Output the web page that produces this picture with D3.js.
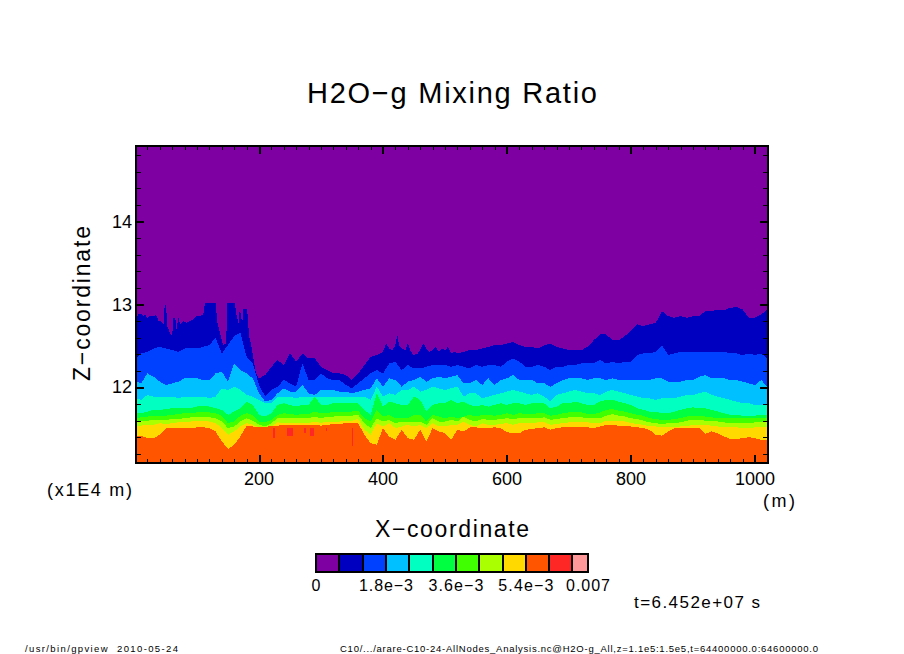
<!DOCTYPE html>
<html>
<head>
<meta charset="utf-8">
<script src="https://cdn.jsdelivr.net/npm/d3@7"></script>
<style>
  body { margin: 0; background: #fff; }
  text { font-family: "Liberation Sans", sans-serif; fill: #000; }
</style>
</head>
<body>
<div id="viz"></div>
<script>
// x samples (m)
const xs = [2].concat(d3.range(10, 1021, 10));

// the top boundary is spikier, so it gets its own denser x samples
const navyXs = [
  2,5,10,13,16,20,24,30,34,38,41,46,48,50,52,56,60,62,65,67,70,73,78,83,89,94,99,
  105,110,113,121,130,133,137,142,147,149,161,163,167,169,173,175,181,184,188,195,
  200,210,220,230,240,250,260,270,280,290,300,310,320,330,340,350,360,370,380,390,
  400,405,410,415,420,423,426,430,436,440,445,450,456,460,465,470,475,480,485,490,495,500,505,510,515,520,
  530,540,550,560,570,580,590,600,610,620,630,640,650,660,670,680,690,700,710,720,730,740,750,760,770,780,790,
  800,810,820,830,840,850,860,870,880,890,900,910,920,930,940,950,960,970,980,990,1000,1010,1020
];

// contour boundaries, z in units of 1e4 m
const navyTop = [
  12.84,12.88,12.89,12.86,12.88,12.84,12.86,12.86,12.88,12.80,12.80,12.76,13.00,13.00,12.74,12.66,12.62,12.84,12.84,12.70,12.84,12.76,12.80,12.78,12.80,12.82,12.86,
  12.86,12.88,13.02,13.02,13.02,12.78,12.66,12.51,12.53,13.02,13.02,12.90,12.78,12.94,12.78,12.95,12.94,12.62,12.49,12.17,
  12.11,12.15,12.25,12.33,12.27,12.41,12.31,12.41,12.35,12.35,12.25,12.21,12.17,12.17,12.15,12.09,12.17,12.27,12.37,12.39,
  12.43,12.53,12.47,12.45,12.51,12.64,12.51,12.47,12.45,12.53,12.43,12.39,12.41,12.45,12.53,12.47,12.43,12.45,12.49,12.43,12.47,12.45,12.49,12.41,12.43,12.41,
  12.43,12.45,12.45,12.47,12.49,12.51,12.51,12.53,12.55,12.51,12.49,12.49,12.47,12.51,12.53,12.49,12.47,12.45,12.45,12.45,12.49,12.57,12.64,12.64,12.57,12.57,12.62,
  12.68,12.76,12.74,12.76,12.78,12.92,12.86,12.84,12.86,12.84,12.86,12.86,12.92,12.92,12.94,12.93,12.96,12.97,12.94,12.84,12.84,12.88,12.94
];
const blueTop = [
  12.35,12.41,12.43,12.47,12.49,12.47,12.45,12.43,12.47,12.47,
  12.47,12.49,12.51,12.60,12.41,12.51,12.62,12.66,12.37,12.29,
  12.03,11.89,11.97,12.01,12.09,12.05,12.01,12.29,12.09,12.09,
  12.17,12.11,12.09,12.09,12.03,11.99,12.05,12.11,12.17,12.21,
  12.17,12.29,12.31,12.21,12.27,12.23,12.23,12.25,12.27,12.27,
  12.27,12.25,12.27,12.25,12.23,12.27,12.25,12.27,12.27,12.25,
  12.31,12.35,12.31,12.25,12.25,12.27,12.25,12.21,12.25,12.25,
  12.27,12.27,12.29,12.29,12.29,12.33,12.29,12.31,12.29,12.31,
  12.31,12.39,12.41,12.41,12.43,12.51,12.39,12.41,12.43,12.43,
  12.43,12.43,12.43,12.43,12.43,12.43,12.41,12.41,12.39,12.41,
  12.39,12.41,12.35
];
const cyanTop = [
  12.07,12.05,12.17,12.13,12.07,12.03,12.05,12.07,12.11,12.11,
  12.11,12.09,12.09,12.17,12.19,12.07,12.29,12.21,12.17,12.11,
  11.93,11.83,11.85,11.93,11.99,11.95,11.95,12.03,11.93,11.91,
  11.97,11.97,11.97,11.95,11.95,11.93,11.95,11.97,11.99,12.11,
  12.01,12.11,12.09,12.01,12.07,12.09,12.13,12.07,12.11,12.13,
  12.11,12.13,12.15,12.05,12.05,12.09,12.03,12.11,12.03,12.09,
  12.11,12.15,12.09,12.09,12.09,12.05,12.05,12.01,12.05,12.09,
  12.11,12.11,12.11,12.09,12.11,12.11,12.09,12.11,12.09,12.09,
  12.09,12.09,12.09,12.09,12.11,12.11,12.07,12.07,12.07,12.09,
  12.09,12.13,12.15,12.11,12.11,12.11,12.09,12.09,12.07,12.05,
  12.03,12.09,12.01
];
const tealTop = [
  11.87,11.85,11.91,11.89,11.89,11.89,11.89,11.87,11.89,11.89,
  11.89,11.89,11.87,11.89,11.99,11.97,12.01,11.97,11.91,11.89,
  11.85,11.81,11.81,11.89,11.89,11.89,11.87,11.89,11.89,11.89,
  11.89,11.89,11.89,11.89,11.89,11.89,11.89,11.89,11.85,12.01,
  11.89,11.93,11.91,11.97,11.97,12.01,11.95,11.97,12.01,11.99,
  11.97,11.99,12.01,11.89,11.93,11.93,11.87,11.89,11.91,11.93,
  11.95,11.97,11.95,11.93,11.91,11.93,11.89,11.83,11.91,11.93,
  11.95,11.97,11.95,11.93,11.93,11.91,11.95,11.97,11.95,11.93,
  11.91,11.89,11.87,11.87,11.85,11.87,11.87,11.87,11.89,11.91,
  11.91,11.93,11.95,11.91,11.89,11.87,11.85,11.83,11.81,11.81,
  11.79,11.79,11.79
];
const greenTop = [
  11.69,11.69,11.71,11.73,11.73,11.74,11.75,11.75,11.75,11.75,
  11.77,11.78,11.77,11.75,11.73,11.67,11.71,11.75,11.83,11.79,
  11.67,11.65,11.69,11.79,11.81,11.79,11.77,11.79,11.79,11.89,
  11.79,11.79,11.81,11.81,11.81,11.81,11.81,11.73,11.67,11.93,
  11.77,11.83,11.81,11.79,11.79,11.89,11.85,11.71,11.79,11.81,
  11.81,11.85,11.81,11.83,11.79,11.77,11.79,11.77,11.79,11.81,
  11.79,11.81,11.81,11.79,11.81,11.81,11.81,11.75,11.77,11.81,
  11.81,11.83,11.81,11.79,11.79,11.83,11.85,11.85,11.83,11.81,
  11.79,11.75,11.73,11.71,11.71,11.69,11.69,11.71,11.73,11.75,
  11.76,11.75,11.75,11.73,11.71,11.69,11.67,11.67,11.66,11.66,
  11.66,11.67,11.67
];
const limeTop = [
  11.63,11.64,11.65,11.66,11.66,11.66,11.67,11.68,11.69,11.69,
  11.70,11.70,11.70,11.69,11.66,11.57,11.59,11.66,11.69,11.67,
  11.59,11.58,11.61,11.67,11.69,11.68,11.67,11.68,11.68,11.71,
  11.69,11.69,11.71,11.71,11.71,11.71,11.72,11.63,11.59,11.73,
  11.65,11.67,11.63,11.63,11.63,11.67,11.67,11.59,11.67,11.65,
  11.63,11.65,11.63,11.65,11.67,11.65,11.67,11.67,11.66,11.67,
  11.69,11.67,11.69,11.68,11.68,11.69,11.69,11.66,11.67,11.69,
  11.70,11.71,11.70,11.68,11.68,11.70,11.73,11.74,11.72,11.71,
  11.69,11.67,11.66,11.63,11.62,11.61,11.61,11.62,11.63,11.65,
  11.66,11.66,11.65,11.64,11.63,11.63,11.63,11.63,11.63,11.63,
  11.63,11.63,11.63
];
const chartreuseTop = [
  11.59,11.59,11.60,11.61,11.61,11.61,11.62,11.62,11.63,11.64,
  11.64,11.64,11.64,11.63,11.59,11.51,11.53,11.59,11.63,11.60,
  11.55,11.53,11.57,11.63,11.63,11.63,11.63,11.63,11.63,11.65,
  11.63,11.65,11.65,11.66,11.66,11.66,11.67,11.57,11.51,11.63,
  11.59,11.61,11.57,11.59,11.59,11.59,11.59,11.55,11.63,11.59,
  11.59,11.61,11.59,11.65,11.61,11.59,11.62,11.61,11.61,11.62,
  11.63,11.62,11.63,11.63,11.63,11.63,11.64,11.61,11.62,11.63,
  11.64,11.65,11.64,11.63,11.63,11.63,11.66,11.68,11.66,11.65,
  11.63,11.62,11.60,11.58,11.57,11.56,11.57,11.57,11.58,11.60,
  11.61,11.61,11.60,11.60,11.59,11.58,11.57,11.57,11.57,11.57,
  11.58,11.59,11.59
];
const yellowTop = [
  11.54,11.54,11.55,11.55,11.57,11.56,11.57,11.58,11.59,11.59,
  11.60,11.60,11.59,11.57,11.51,11.43,11.47,11.53,11.57,11.55,
  11.52,11.51,11.53,11.58,11.57,11.57,11.57,11.57,11.57,11.59,
  11.57,11.59,11.59,11.59,11.60,11.60,11.62,11.49,11.43,11.57,
  11.53,11.57,11.51,11.53,11.55,11.53,11.55,11.51,11.57,11.53,
  11.53,11.55,11.55,11.59,11.55,11.53,11.57,11.55,11.55,11.56,
  11.57,11.55,11.57,11.57,11.57,11.58,11.58,11.55,11.56,11.57,
  11.58,11.59,11.58,11.58,11.57,11.57,11.60,11.60,11.60,11.59,
  11.57,11.56,11.55,11.53,11.53,11.52,11.53,11.52,11.53,11.53,
  11.55,11.55,11.55,11.54,11.53,11.52,11.52,11.52,11.51,11.51,
  11.52,11.53,11.52
];
const orangeTop = [
  11.42,11.42,11.39,11.39,11.43,11.51,11.51,11.51,11.51,11.51,
  11.52,11.52,11.51,11.47,11.35,11.26,11.31,11.41,11.54,11.53,
  11.52,11.52,11.54,11.54,11.55,11.55,11.55,11.55,11.55,11.55,
  11.54,11.55,11.56,11.56,11.57,11.57,11.57,11.43,11.33,11.31,
  11.51,11.41,11.37,11.49,11.39,11.37,11.49,11.35,11.51,11.47,
  11.45,11.37,11.49,11.47,11.52,11.52,11.51,11.51,11.52,11.51,
  11.46,11.45,11.45,11.49,11.50,11.51,11.52,11.49,11.51,11.52,
  11.52,11.52,11.52,11.52,11.51,11.53,11.55,11.55,11.54,11.54,
  11.53,11.52,11.51,11.49,11.43,11.42,11.47,11.51,11.51,11.51,
  11.51,11.51,11.44,11.47,11.45,11.41,11.38,11.38,11.39,11.40,
  11.39,11.37,11.37
];
const lowerBoundaries = [blueTop, cyanTop, tealTop, greenTop, limeTop, chartreuseTop, yellowTop, orangeTop];

// small isolated patches: x range and z range
const redX0 = [222, 245, 272, 282, 308, 350];
const redX1 = [225, 255, 275, 289, 310, 352];
const redHigh = [11.51, 11.51, 11.51, 11.51, 11.51, 11.51];
const redLow = [11.39, 11.41, 11.45, 11.41, 11.47, 11.30];

// colour bar levels
const levels = [0, 6e-4, 12e-4, 18e-4, 24e-4, 30e-4, 36e-4, 42e-4, 48e-4, 54e-4, 60e-4, 66e-4, 7e-3];
const levelColors = ["#7f00a2", "#0000c0", "#0040ff", "#00c0ff", "#00ffc0", "#00ff40",
                     "#40ff00", "#aaff00", "#ffd900", "#ff5500", "#ff2626", "#ff9999"];
const levelTicks = [0, 18e-4, 36e-4, 54e-4, 7e-3];
const levelTickLabels = ["0", "1.8e\u22123", "3.6e\u22123", "5.4e\u22123", "0.007"];
const levelLabelWidths = [8, 54, 55, 55, 44];

const xMajor = [200, 400, 600, 800, 1000];
const zMajor = [12, 13, 14];

const svg = d3.select("#viz").append("svg").attr("width", 904).attr("height", 654).style("display", "block");

const xScale = d3.scaleLinear().domain([1.6, 1021]).range([136, 768]);
const zScale = d3.scaleLinear().domain([11.09, 14.91]).range([463, 146]);

const plot = svg.append("g").attr("shape-rendering", "crispEdges");

plot.append("rect")
  .attr("x", 136).attr("y", 146).attr("width", 632).attr("height", 317)
  .attr("fill", levelColors[0]);

// painter's order: each band runs from its top boundary to the bottom of the frame
const bandArea = (xValues) => d3.area()
  .x((d, i) => xScale(xValues[i]))
  .y0(463)
  .y1(d => zScale(d));

plot.append("path").attr("d", bandArea(navyXs)(navyTop)).attr("fill", levelColors[1]);
lowerBoundaries.forEach((b, i) => {
  plot.append("path").attr("d", bandArea(xs)(b)).attr("fill", levelColors[i + 2]);
});

plot.selectAll(".red").data(redX0).enter().append("rect")
  .attr("class", "red")
  .attr("x", d => xScale(d))
  .attr("width", (d, i) => xScale(redX1[i]) - xScale(d))
  .attr("y", (d, i) => zScale(redHigh[i]))
  .attr("height", (d, i) => zScale(redLow[i]) - zScale(redHigh[i]))
  .attr("fill", levelColors[10]);

// ticks on all four sides, pointing inward
const xMinor = d3.range(20, 1021, 20).filter(d => !xMajor.includes(d));
const zMinor = d3.range(11.2, 14.9, 0.2).filter(d => !zMajor.some(m => Math.abs(m - d) < 0.01));

function addTicks(axis, transform, width) {
  const g = svg.append("g").attr("transform", transform).call(axis);
  g.select(".domain").remove();
  g.selectAll("line").attr("stroke", "#000").attr("stroke-width", width).attr("shape-rendering", "crispEdges");
  return g;
}

[[d3.axisBottom(xScale), "translate(0,463)"], [d3.axisTop(xScale), "translate(0,146)"]].forEach(a => {
  addTicks(a[0].tickValues(xMinor).tickSize(-4).tickFormat(""), a[1], 1);
  addTicks(a[0].tickValues(xMajor).tickSize(-8).tickFormat(""), a[1], 2);
});
[[d3.axisLeft(zScale), "translate(136,0)"], [d3.axisRight(zScale), "translate(768,0)"]].forEach(a => {
  addTicks(a[0].tickValues(zMinor).tickSize(-5).tickFormat(""), a[1], 1);
  addTicks(a[0].tickValues(zMajor).tickSize(-8).tickFormat(""), a[1], 2);
});

plot.append("rect")
  .attr("x", 136).attr("y", 146).attr("width", 632).attr("height", 317)
  .attr("fill", "none").attr("stroke", "#000").attr("stroke-width", 2);

// tick labels
svg.selectAll(".xlab").data(xMajor).enter().append("text")
  .attr("class", "xlab")
  .attr("x", d => xScale(d)).attr("y", 485)
  .attr("text-anchor", "middle").attr("font-size", 18)
  .text(d => d);

svg.selectAll(".zlab").data([14, 13, 12]).enter().append("text")
  .attr("class", "zlab")
  .attr("x", 132).attr("y", d => zScale(d) + 6)
  .attr("text-anchor", "end").attr("font-size", 18)
  .text(d => d);

function label(str, x, y, size, len) {
  return svg.append("text").attr("x", x).attr("y", y).attr("font-size", size)
    .attr("textLength", len).attr("lengthAdjust", "spacing").text(str);
}

label("H2O\u2212g Mixing Ratio", 307, 103, 29, 290);
label("X\u2212coordinate", 375, 537, 23, 154);
label("(x1E4 m)", 47, 496, 18, 85);
label("(m)", 763, 507, 18, 32);
label("t=6.452e+07 s", 634, 608, 17, 126);
label("/usr/bin/gpview  2010-05-24", 25, 652, 9.5, 153).style("white-space", "pre");
label("C10/.../arare-C10-24-AllNodes_Analysis.nc@H2O-g_All,z=1.1e5:1.5e5,t=64400000.0:64600000.0", 340, 652, 9.5, 478);

svg.append("text")
  .attr("transform", "translate(90,381) rotate(-90)")
  .attr("font-size", 23).attr("textLength", 155).attr("lengthAdjust", "spacing")
  .text("Z\u2212coordinate");

// colour bar
const barScale = d3.scaleLinear().domain([0, 7e-3]).range([316, 588]);
const bar = svg.append("g").attr("shape-rendering", "crispEdges");
bar.selectAll("rect").data(levelColors).enter().append("rect")
  .attr("x", (d, i) => barScale(levels[i]))
  .attr("width", (d, i) => barScale(levels[i + 1]) - barScale(levels[i]))
  .attr("y", 554).attr("height", 18)
  .attr("fill", d => d).attr("stroke", "#000").attr("stroke-width", 2);

svg.selectAll(".barlab").data(levelTicks).enter().append("text")
  .attr("class", "barlab")
  .attr("x", d => barScale(d)).attr("y", 591)
  .attr("text-anchor", "middle").attr("font-size", 16)
  .attr("textLength", (d, i) => levelLabelWidths[i]).attr("lengthAdjust", "spacing")
  .text((d, i) => levelTickLabels[i]);
</script>
</body>
</html>
